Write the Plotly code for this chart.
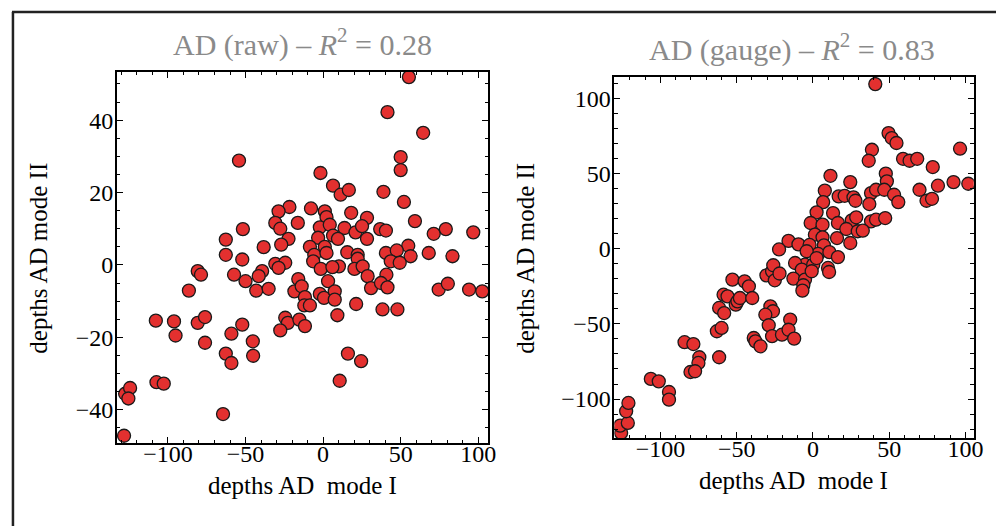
import plotly.graph_objects as go

# ---- data: left panel (raw) ----
raw_x = [55.3, 41.5, 64.5, -54.2, 50, 50, -1.7, 6.4, 11.3, 16.6, 38.9, 52.1, -21.7, -28.7, -7.8, 1.1,
         18.1, -16.3, -30.8, 2.2, 28.3, 59.2, -51.7, -27.6, -2.1, 4.3, 13.8, 20.9, 25.1, 36.8, 40.5, 71.3,
         79.1, 96.8, -62.7, -22.3, -27, -3.2, 6.4, 9.6, 28.3, -38.3, -8.5, 1.1, 54.9, -62.7, -52.1, -5.7,
         2.2, 15.6, 22.3, 40.5, 47.5, 56.4, 68.1, 83.4, -30.8, -24.4, -6.4, 10.2, 22.3, 43.6, 49.4, -28.7,
         -39.3, -1.5, 6, 20.2, 25.5, -80.8, -78.7, -57.4, -41.5, 28.7, 40.8, -50, 3.2, -16, -86.5, -43.1,
         -35.1, -18.5, 30.9, 37.3, 41.5, 74.5, 80.4, 94.1, 102.6, -13.8, -11.7, -2.1, 0.6, 7.5, 7.5, -12.1,
         -8.5, 21.3, 38.3, 47.9, 9.2, -107.8, -96.1, -80.8, -76.1, -24.4, -22.7, -15.3, -11.7, -52.1, -27.6,
         -95.1, -59.1, -76.1, -45.3, -62.7, -45.1, -59.1, 16, 24.5, 10.7, -107.4, -102.7, -127.6, -124.4,
         -125.5, -64.5, -128.3]
raw_y = [51.9, 42.2, 36.5, 28.8, 29.8, 26.2, 25.4, 21.9, 19.4, 20.7, 20.2, 17.4, 16, 14.8, 15.6, 14.8,
         14.4, 11.6, 11.6, 13.2, 13, 12.1, 9.9, 10, 10.4, 11.1, 10.2, 9, 10.7, 9.9, 9.5, 8.6,
         9.9, 9, 7, 7.2, 5.6, 7.5, 8.1, 7.2, 7.2, 4.9, 5, 5, 5.3, 2.8, 1.5, 2.8,
         3.3, 3.5, 2.8, 3.3, 4, 2.4, 3.3, 2.4, 0.3, 0.6, 1, -0.4, 1.7, 1, 0.6, -0.8,
         -1.7, -1.1, -0.6, -1.1, -0.4, -1.7, -2.7, -2.7, -3.1, -3.1, -2.7, -4.5, -4.5, -3.9, -7.1, -7.1,
         -6.6, -7.3, -6.4, -5, -6.2, -6.8, -5.2, -6.8, -7.3, -5.9, -8.9, -8, -9.1, -7.3, -9.6, -11.2,
         -11.2, -10.8, -12.3, -12.3, -13.9, -15.4, -15.6, -16, -14.4, -14.6, -16, -15.1, -16.9, -16.5, -18.1,
         -19.5, -19, -21.5, -21.1, -24.5, -25.1, -27.1, -24.5, -26.6, -32, -32.4, -32.8, -35.6, -34,
         -36.9, -41.2, -47.2]

# ---- data: right panel (gauge) ----
gauge_x = [40.9, 49.6, 51.7, 54.8, 38.7, 36.6, 96.5, 59.1, 63.4, 68.4, 78.6, 82, 92.2, 101.9, 69.9, 74.5,
           78.1, 11.5, 24.5, 47.8, 48.5, 7.8, 16.9, 20.8, 26.6, 27.9, 38.1, 41.4, 37, 46.8, 53.2, 56,
           6.7, 13.2, 2.4, 38.1, 41.4, 47.4, -1.5, 6.3, 16.4, 25.5, 28.4, 1.3, 6.3, 21.9, 29.4, 32.7,
           15.8, 24.5,
           -16, -9.5, -2.2, -22.2, 7.2, 3.4, 10.8, 16.4, -4.1, -5.2, 9.9,
           -11.7, -7.3, -12.8, -5.2, -6.3, -6.9, 0.2, 2.4, 10.6, -0.8,
           -30.5, -26.8, -26, -25, -21.9,
           -27.9, -26.2, -31.2, -29, -26.8, -20.3, -14.9, -16, -12.3,
           -38.8, -37.7, -34.4,
           -58.6, -56, -52.8, -50.6, -49.5, -47.9, -44.8, -42, -39.8, -61.5, -58.2, -63, -59.9, -61.5,
           -84.2, -78.4, -74.5, -75.1, -80.3, -77.3, -106.3, -101.1, -94.4, -94.4, -125.8, -126.4, -121.4,
           -122.5, -121]
gauge_y = [109.5, 76.9, 73.6, 70.3, 65.8, 58.5, 66.5, 59.8, 58.5, 59.8, 54.3, 41.9, 44.3, 43.2, 39.2, 31.9,
           33.2, 48.5, 44.3, 49.9, 44.8, 38.6, 34.8, 35.2, 34.2, 31.9, 37, 39.2, 29.7, 39.2, 35.9, 31,
           31, 23.7, 24.2, 18.2, 19.3, 20.4, 17.1, 16, 17.1, 18.9, 20.9, 9.3, 7.6, 13.1, 11.6, 12,
           7.1, 3.8,
           5.2, 2.9, 2.5, -0.5, 2.2, -3.5, -2.3, -5.6, -1.7, -10.6, -12.8,
           -9.5, -13.9, -19.9, -20.6, -24.3, -27.9, -10.6, -6.2, -15.5, -15,
           -17.7, -15, -11, -21, -16.5,
           -38.3, -41.6, -43.9, -50.9, -58.2, -57.2, -47.2, -53.9, -59.8,
           -59.4, -61.6, -64.9,
           -30.6, -31.7, -20.6, -37.2, -35, -32.8, -21.7, -25, -32.8, -39.4, -42.8, -54.9, -52.7, -72.2,
           -62.2, -63.4, -72.2, -76, -82, -81.5, -86.6, -88.2, -95.3, -100.4, -122.5, -117.7, -115.9,
           -108.1, -102.6]

titles = ["AD (raw) \u2013 <i>R</i><sup>2</sup> = 0.28", "AD (gauge) \u2013 <i>R</i><sup>2</sup> = 0.83"]
xlabel = "depths AD\u00a0 mode I"
ylabel = "depths AD mode II"

FONT = "Liberation Serif, Times New Roman, serif"
W, H = 1004, 526

marker = dict(size=13, color="#e3302f", line=dict(color="#1a1a1a", width=1.3))

fig = go.Figure()
fig.add_trace(go.Scatter(x=raw_x, y=raw_y, mode="markers", marker=marker, xaxis="x", yaxis="y",
                         showlegend=False))
fig.add_trace(go.Scatter(x=gauge_x, y=gauge_y, mode="markers", marker=marker, xaxis="x2", yaxis="y2",
                         showlegend=False))


def ax(domain, rng, dtick, mdtick, anchor, standoff):
    return dict(domain=domain, range=rng, tick0=0, dtick=dtick, anchor=anchor,
                ticks="inside", ticklen=6, tickwidth=1.2, tickcolor="black",
                minor=dict(dtick=mdtick, tick0=0, ticks="inside", ticklen=3.5, tickwidth=1, tickcolor="black",
                           showgrid=False),
                showline=True, linecolor="black", linewidth=1.8, mirror="ticks",
                showgrid=False, zeroline=False, ticklabelstandoff=standoff,
                tickfont=dict(family=FONT, size=24, color="black"))


fig.update_layout(
    width=W, height=H, margin=dict(l=0, r=0, t=0, b=0),
    paper_bgcolor="white", plot_bgcolor="white",
    xaxis=ax([110 / W, 485 / W], [-132.9, 106.4], 50, 10, "y", -12),
    yaxis=ax([(H - 435) / H, (H - 64) / H], [-49.2, 53.3], 20, 5, "x", -3),
    xaxis2=ax([612.5 / W, 975.5 / W], [-130.2, 105.5], 50, 10, "y2", -12),
    yaxis2=ax([(H - 430) / H, (H - 69) / H], [-125.9, 114.2], 50, 10, "x2", -3),
)

ann = []
ann.append(dict(text=titles[0], x=297 / W, y=1 - 35 / H, xref="paper", yref="paper", showarrow=False,
                font=dict(family=FONT, size=30, color="#8a8a8a"), xanchor="center", yanchor="middle"))
ann.append(dict(text=titles[1], x=792 / W, y=1 - 39 / H, xref="paper", yref="paper", showarrow=False,
                font=dict(family=FONT, size=30, color="#8a8a8a"), xanchor="center", yanchor="middle"))
for cx, cy in [(297, 477), (793, 472)]:
    ann.append(dict(text=xlabel, x=cx / W, y=1 - cy / H, xref="paper", yref="paper", showarrow=False,
                    font=dict(family=FONT, size=25, color="black"), xanchor="center", yanchor="middle"))
for cx, cy in [(31, 250), (523, 250)]:
    ann.append(dict(text=ylabel, x=cx / W, y=1 - cy / H, xref="paper", yref="paper", showarrow=False,
                    textangle=-90, font=dict(family=FONT, size=25, color="black"),
                    xanchor="center", yanchor="middle"))
fig.update_layout(annotations=ann)

# outer frame (top and left edges)
fig.add_shape(type="line", xref="paper", yref="paper", x0=4 / W, x1=1, y0=1 - 4 / H, y1=1 - 4 / H,
              line=dict(color="#222222", width=2.5))
fig.add_shape(type="line", xref="paper", yref="paper", x0=5 / W, x1=5 / W, y0=0, y1=1 - 4 / H,
              line=dict(color="#222222", width=2.5))

fig.write_html("out.html")
